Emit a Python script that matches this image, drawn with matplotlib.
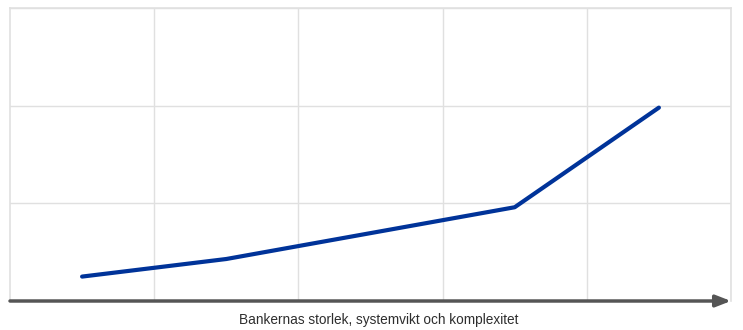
import matplotlib
matplotlib.use('Agg')
import matplotlib.pyplot as plt

# positions along the size axis and the rising curve
x_vals = [0.5, 1.5, 3.5, 4.5]
y_vals = [0.25, 0.43, 0.96, 1.98]
x_label = "Bankernas storlek, systemvikt och komplexitet"

plt.rcParams['font.family'] = ['Liberation Sans', 'DejaVu Sans']

fig = plt.figure(figsize=(7.43, 3.30), dpi=100)
ax = fig.add_axes([10 / 743, 1 - 301 / 330, 721 / 743, 293 / 330])

ax.set_xlim(0, 5)
ax.set_ylim(0, 3)
ax.set_xticks([1, 2, 3, 4, 5])
ax.set_yticks([1, 2, 3])
ax.grid(True, color='#e0e0e0', linewidth=1.0)
ax.tick_params(length=0, labelbottom=False, labelleft=False)
for side in ['top', 'left', 'right']:
    ax.spines[side].set_color('#e0e0e0')
    ax.spines[side].set_linewidth(1.2)
ax.spines['bottom'].set_visible(False)

ax.plot(x_vals, y_vals, color='#003399', linewidth=3, solid_capstyle='round', zorder=3)

# axis arrow
ax.annotate('', xy=(5.0, 0), xytext=(0, 0), xycoords='data',
            arrowprops=dict(arrowstyle='-|>,head_length=0.9,head_width=0.35',
                            color='#555555', lw=2.5, shrinkA=0, shrinkB=0),
            annotation_clip=False)

fig.text(379 / 743, 1 - 320 / 330, x_label, ha='center', va='center',
         fontsize=9.8, color='#2e2e2e')

fig.savefig('out.png', dpi=100)
